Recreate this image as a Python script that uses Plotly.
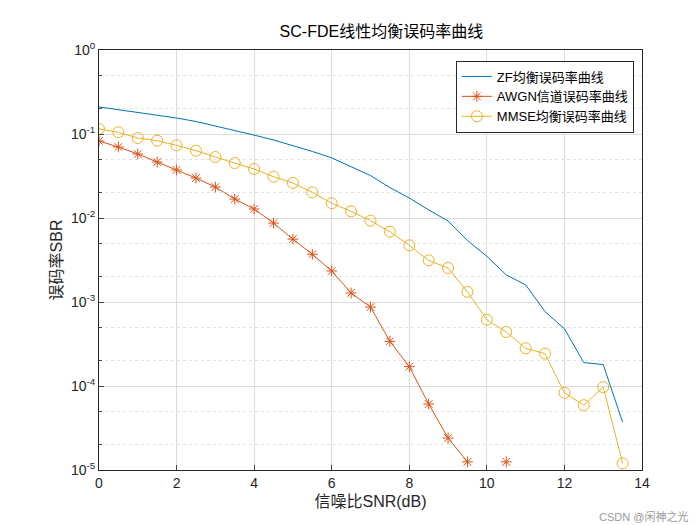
import plotly.graph_objects as go

snr = [i*0.5 for i in range(28)]
zf = [0.21,0.195,0.182,0.168,0.155,0.141,0.125,0.111,0.097,0.085,0.073,0.062,0.052,0.041,0.032,0.023,0.0173,0.0125,0.0092,0.0054,0.0035,0.0021,0.0016,0.00077,0.00048,0.00019,0.00018,0.000037]
snr_awgn = [i*0.5 for i in range(22)]
awgn = [0.0826,0.070,0.0578,0.0464,0.0373,0.0299,0.0234,0.0168,0.0128,0.0087,0.0056,0.0037,0.00234,0.00128,0.00087,0.00034,0.00017,6.1e-5,2.4e-5,1.25e-5,None,1.25e-5]
mmse = [0.1148,0.1047,0.0896,0.0832,0.0733,0.0633,0.0532,0.0451,0.0383,0.0310,0.0261,0.0202,0.0150,0.0120,0.0093,0.00687,0.00473,0.00313,0.00254,0.00132,0.000615,0.00044,0.000281,0.000243,8.3e-5,5.9e-5,9.7e-5,1.2e-5]
ytick_vals = [1e-5,1e-4,1e-3,1e-2,1e-1,1]
ytick_text = ["10<sup>-5</sup>","10<sup>-4</sup>","10<sup>-3</sup>","10<sup>-2</sup>","10<sup>-1</sup>","10<sup>0</sup>"]

fig = go.Figure()
fig.add_trace(go.Scatter(x=snr, y=zf, mode="lines", name="ZF均衡误码率曲线",
                         line=dict(color="#0072BD", width=1)))
fig.add_trace(go.Scatter(x=snr_awgn, y=awgn, mode="lines+markers", name="AWGN信道误码率曲线",
                         line=dict(color="#D95319", width=1), connectgaps=False,
                         marker=dict(symbol="asterisk-open", size=9, line=dict(color="#D95319", width=1))))
fig.add_trace(go.Scatter(x=snr, y=mmse, mode="lines+markers", name="MMSE均衡误码率曲线",
                         line=dict(color="#EDB120", width=1),
                         marker=dict(symbol="circle-open", size=11, line=dict(color="#EDB120", width=1))))

font = "Liberation Sans, Noto Sans CJK SC, Arial"
fig.update_layout(
    width=700, height=525, paper_bgcolor="white", plot_bgcolor="white",
    margin=dict(l=91, r=66, t=42, b=63, autoexpand=False),
    font=dict(family=font, size=14, color="#262626"),
    title=dict(text="SC-FDE线性均衡误码率曲线", x=0.52, xref="paper", y=0.955, yanchor="middle", font=dict(size=16, color="black")),
    legend=dict(x=0.985, y=0.975, xanchor="right", yanchor="top", bgcolor="white",
                bordercolor="#262626", borderwidth=1, font=dict(size=13, color="black")),
    showlegend=True,
)
fig.update_xaxes(range=[0,14], dtick=2, showline=True, mirror=True, linecolor="#262626", linewidth=1,
                 ticks="inside", ticklen=5, showgrid=True, gridcolor="#dcdcdc", zeroline=False, automargin=False,
                 title=dict(text="信噪比SNR(dB)", font=dict(size=16), standoff=6))
fig.update_yaxes(type="log", range=[-5,0], tickvals=ytick_vals, ticktext=ytick_text, automargin=False,
                 showline=True, mirror=True, linecolor="#262626", linewidth=1,
                 ticks="inside", ticklen=5, showgrid=True, gridcolor="#dcdcdc",
                 minor=dict(showgrid=True, gridcolor="#e4e4e4", griddash="dot", ticks="inside", ticklen=3),
                 title=dict(text="误码率SBR", font=dict(size=16), standoff=4))
fig.add_annotation(text="CSDN @闲神之光", x=1.0, y=0, xref="paper", yref="paper", xanchor="left",
                   yanchor="top", xshift=-45, yshift=-38, showarrow=False, font=dict(size=11, color="#999999"))
fig.write_html("out.html")
